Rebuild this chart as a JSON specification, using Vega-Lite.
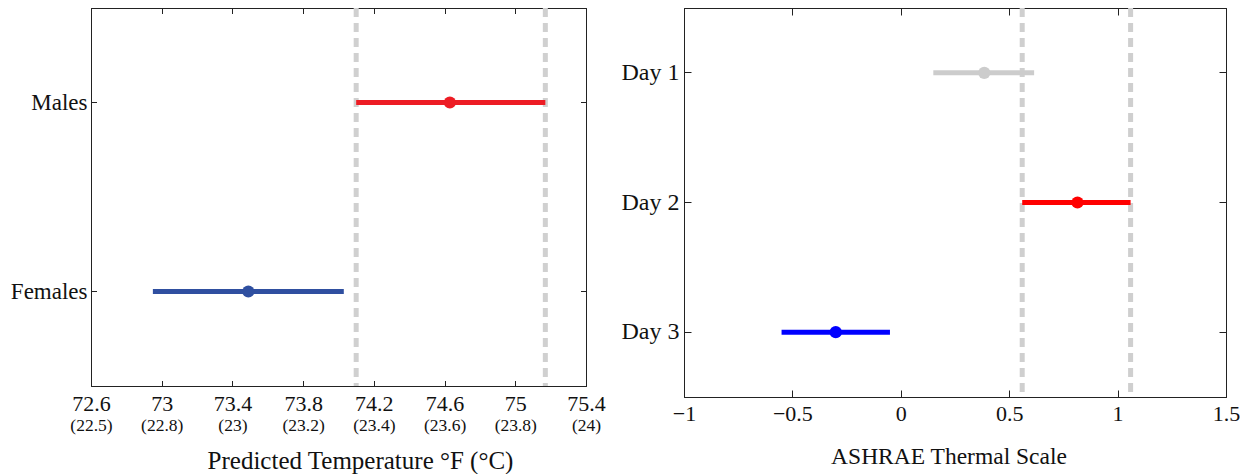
{
  "$schema": "https://vega.github.io/schema/vega-lite/v6.json",
  "padding": {"left": 9, "top": 5, "right": 0, "bottom": 0},
  "spacing": 14,
  "resolve": {"scale": {"color": "independent"}},
  "config": {
    "font": "Liberation Serif",
    "view": {"stroke": "#222222", "strokeWidth": 1},
    "axis": {
      "domainColor": "#222222", "tickColor": "#222222", "labelColor": "#111111", "titleColor": "#111111",
      "titleFontWeight": "normal", "grid": false, "domainWidth": 1, "tickWidth": 1,
      "labelFont": "Liberation Serif", "titleFont": "Liberation Serif", "labelFlush": false, "labelOverlap": false
    }
  },
  "datasets": {
    "sex": [
      {"group": "Males", "lo": 74.10, "mean": 74.63, "hi": 75.17},
      {"group": "Females", "lo": 72.95, "mean": 73.49, "hi": 74.03}
    ],
    "sexBounds": [{"bound": 74.10}, {"bound": 75.17}],
    "day": [
      {"day": "Day 1", "lo": 0.15, "mean": 0.385, "hi": 0.615},
      {"day": "Day 2", "lo": 0.56, "mean": 0.815, "hi": 1.06},
      {"day": "Day 3", "lo": -0.55, "mean": -0.30, "hi": -0.05}
    ],
    "dayBounds": [{"bound": 0.56}, {"bound": 1.06}]
  },
  "hconcat": [
    {
      "width": 495, "height": 378,
      "layer": [
        {
          "data": {"name": "sexBounds"},
          "mark": {"type": "rule", "strokeDash": [9, 6], "strokeWidth": 5, "color": "#d0d0d0"},
          "encoding": {
            "x": {"field": "bound", "type": "quantitative",
              "scale": {"domain": [72.6, 75.4], "nice": false, "zero": false},
              "axis": {"orient": "bottom", "values": [72.6, 73, 73.4, 73.8, 74.2, 74.6, 75, 75.4], "format": "~g",
                "tickSize": -5.5, "labelPadding": 13, "labelFontSize": 22, "title": null}}
          }
        },
        {
          "data": {"name": "sex"},
          "mark": {"type": "rule", "strokeWidth": 5},
          "encoding": {
            "x": {"field": "lo", "type": "quantitative",
              "scale": {"domain": [72.6, 75.4], "nice": false, "zero": false},
              "axis": {"orient": "bottom", "offset": 24, "domain": false, "ticks": false,
                "values": [72.6, 73, 73.4, 73.8, 74.2, 74.6, 75, 75.4], "format": "~g",
                "labelExpr": "datum.label == '72.6' ? '(22.5)' : datum.label == '73' ? '(22.8)' : datum.label == '73.4' ? '(23)' : datum.label == '73.8' ? '(23.2)' : datum.label == '74.2' ? '(23.4)' : datum.label == '74.6' ? '(23.6)' : datum.label == '75' ? '(23.8)' : '(24)'",
                "labelFontSize": 17.5, "labelPadding": 6,
                "title": "Predicted Temperature °F (°C)", "titleFontSize": 25, "titlePadding": 15, "titleX": 269}},
            "x2": {"field": "hi"},
            "y": {"field": "group", "type": "nominal", "scale": {"domain": ["Males", "Females"]},
              "axis": {"orient": "left", "title": null, "tickSize": -5.5, "labelPadding": 9.5, "labelFontSize": 23}},
            "color": {"field": "group", "type": "nominal",
              "scale": {"domain": ["Males", "Females"], "range": ["#ed1c24", "#2f4fa0"]}, "legend": null}
          }
        },
        {
          "data": {"name": "sex"},
          "mark": {"type": "point", "filled": true, "size": 150, "opacity": 1},
          "encoding": {
            "x": {"field": "mean", "type": "quantitative",
              "scale": {"domain": [72.6, 75.4], "nice": false, "zero": false},
              "axis": {"orient": "top", "labels": false, "tickSize": -5.5, "title": null,
                "values": [72.6, 73, 73.4, 73.8, 74.2, 74.6, 75, 75.4]}},
            "y": {"field": "group", "type": "nominal", "scale": {"domain": ["Males", "Females"]},
              "axis": {"orient": "right", "labels": false, "tickSize": -5.5, "title": null}},
            "color": {"field": "group", "type": "nominal",
              "scale": {"domain": ["Males", "Females"], "range": ["#ed1c24", "#2f4fa0"]}, "legend": null}
          }
        }
      ],
      "resolve": {"axis": {"x": "independent", "y": "independent"}}
    },
    {
      "width": 542, "height": 389,
      "layer": [
        {
          "data": {"name": "dayBounds"},
          "mark": {"type": "rule", "strokeDash": [9, 6], "strokeWidth": 5, "color": "#cfcfcf"},
          "encoding": {
            "x": {"field": "bound", "type": "quantitative",
              "scale": {"domain": [-1, 1.5], "nice": false, "zero": false},
              "axis": {"orient": "bottom", "values": [-1, -0.5, 0, 0.5, 1, 1.5], "format": "~g",
                "tickSize": -7, "labelPadding": 13, "labelFontSize": 22,
                "title": "ASHRAE Thermal Scale", "titleFontSize": 23.5, "titlePadding": 20, "titleX": 264.5}}
          }
        },
        {
          "data": {"name": "day"},
          "mark": {"type": "rule", "strokeWidth": 5},
          "encoding": {
            "x": {"field": "lo", "type": "quantitative",
              "scale": {"domain": [-1, 1.5], "nice": false, "zero": false}, "axis": null},
            "x2": {"field": "hi"},
            "y": {"field": "day", "type": "nominal", "scale": {"domain": ["Day 1", "Day 2", "Day 3"]},
              "axis": {"orient": "left", "title": null, "tickSize": -7, "labelPadding": 12, "labelFontSize": 24}},
            "color": {"field": "day", "type": "nominal",
              "scale": {"domain": ["Day 1", "Day 2", "Day 3"], "range": ["#cccccc", "#ff0000", "#0000ff"]}, "legend": null}
          }
        },
        {
          "data": {"name": "day"},
          "mark": {"type": "point", "filled": true, "size": 150, "opacity": 1},
          "encoding": {
            "x": {"field": "mean", "type": "quantitative",
              "scale": {"domain": [-1, 1.5], "nice": false, "zero": false},
              "axis": {"orient": "top", "labels": false, "tickSize": -7, "title": null,
                "values": [-1, -0.5, 0, 0.5, 1, 1.5]}},
            "y": {"field": "day", "type": "nominal", "scale": {"domain": ["Day 1", "Day 2", "Day 3"]},
              "axis": {"orient": "right", "labels": false, "tickSize": -7, "title": null}},
            "color": {"field": "day", "type": "nominal",
              "scale": {"domain": ["Day 1", "Day 2", "Day 3"], "range": ["#cccccc", "#ff0000", "#0000ff"]}, "legend": null}
          }
        }
      ],
      "resolve": {"axis": {"x": "independent", "y": "independent"}}
    }
  ]
}
